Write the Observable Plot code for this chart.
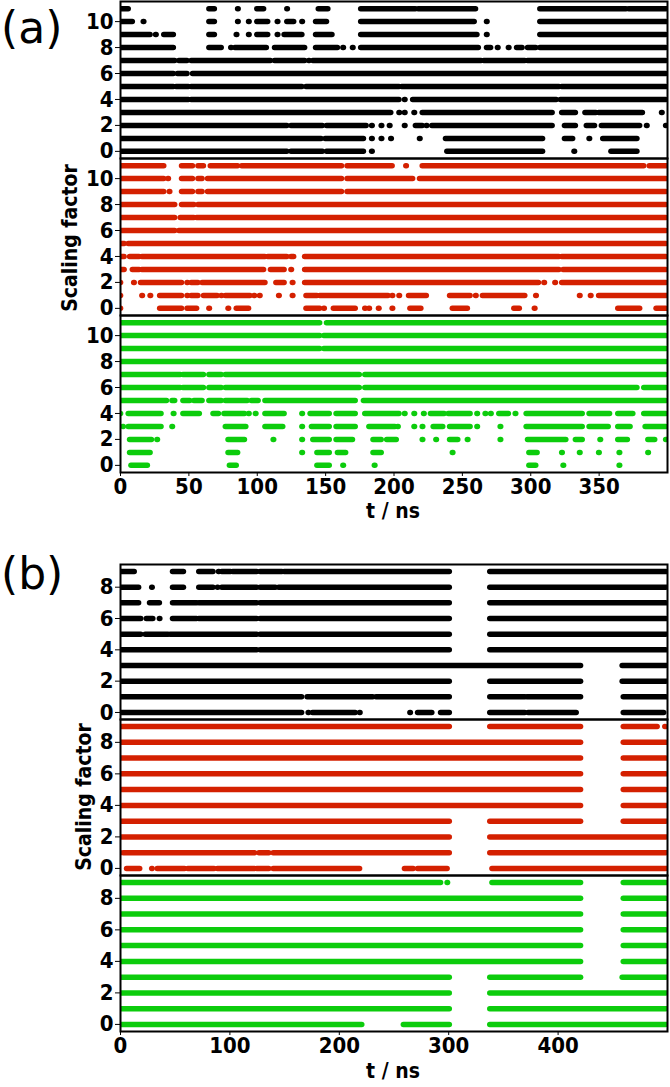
<!DOCTYPE html>
<html><head><meta charset="utf-8">
<script src="https://cdn.jsdelivr.net/npm/d3@7"></script>
<script src="https://cdn.jsdelivr.net/npm/@observablehq/plot@0.6"></script>
<style>
body{margin:0;background:#fff;}
#wrap{position:relative;width:670px;height:1087px;overflow:hidden;font-family:"DejaVu Sans",sans-serif;color:#000;}
.abs{position:absolute;}
.lab{font-family:"DejaVu Sans Condensed","DejaVu Sans",sans-serif;font-stretch:condensed;font-weight:bold;font-size:21px;white-space:nowrap;line-height:1;}
.tag{font-size:44px;line-height:1;white-space:nowrap;}
</style></head><body><div id="wrap"></div>
<script>
// ---- data: [level, [[t_start, t_end], ...]] in ns ----
const aXTicks = [0, 50, 100, 150, 200, 250, 300, 350];
const bXTicks = [0, 100, 200, 300, 400];
const aYTicks = [0, 2, 4, 6, 8, 10];
const bYTicks = [0, 2, 4, 6, 8];

const aBlack = [
 [11, [[0,6],[65,69],[86,86],[100,105],[122,122],[145,152],[176,216],[218,260],[307,370],[372,399]]],
 [10, [[0,9],[17,17],[65,69],[86,86],[94,94],[100,108],[115,115],[122,127],[133,133],[143,151],[176,259],[268,268],[307,399]]],
 [9,  [[0,22],[26,26],[32,39],[65,69],[85,85],[94,94],[100,108],[115,115],[120,133],[143,155],[176,261],[268,268],[307,399]]],
 [8,  [[0,39],[65,74],[81,81],[84,107],[113,135],[143,159],[163,163],[170,170],[176,262],[268,271],[276,276],[284,284],[290,294],[298,304],[307,399]]],
 [7,  [[0,40],[43,49],[52,110],[113,135],[138,138],[141,264],[266,296],[298,399]]],
 [6,  [[0,39],[42,49],[53,399]]],
 [5,  [[0,39],[41,50],[52,133],[136,204],[206,321],[323,399]]],
 [4,  [[0,50],[52,204],[208,208],[214,319],[322,399]]],
 [3,  [[0,198],[204,204],[208,208],[215,215],[221,316],[323,333],[340,348],[350,382],[396,396]]],
 [2,  [[0,122],[125,148],[151,180],[184,184],[191,191],[197,197],[208,208],[216,221],[224,224],[228,316],[325,333],[341,347],[352,380],[385,385],[399,399]]],
 [1,  [[0,147],[150,178],[184,184],[191,191],[198,198],[219,219],[238,309],[325,331],[343,343],[353,378]]],
 [0,  [[0,122],[125,148],[151,178],[184,184],[239,309],[332,332],[359,378]]]
];
const aRed = [
 [11, [[0,32],[45,53],[57,61],[66,86],[89,162],[166,199],[209,209],[221,383],[387,399]]],
 [10, [[0,32],[35,35],[45,53],[57,60],[64,162],[166,214],[219,399]]],
 [9,  [[0,32],[36,36],[45,53],[57,60],[64,162],[166,399]]],
 [8,  [[0,40],[45,54],[57,399]]],
 [7,  [[0,40],[44,54],[56,399]]],
 [6,  [[0,40],[43,399]]],
 [5,  [[0,3],[6,399]]],
 [4,  [[0,3],[7,14],[16,106],[108,122],[125,127],[135,321],[323,399]]],
 [3,  [[0,3],[9,14],[16,105],[110,120],[125,125],[135,321],[324,399]]],
 [2,  [[0,0],[10,10],[15,45],[49,49],[52,57],[60,106],[114,120],[126,126],[135,306],[310,310],[318,318],[323,399]]],
 [1,  [[0,0],[16,16],[22,22],[29,45],[49,49],[52,57],[61,71],[74,74],[77,95],[98,98],[102,102],[116,116],[126,126],[136,144],[146,196],[199,199],[204,204],[211,224],[241,256],[260,260],[265,296],[304,304],[336,336],[344,344],[350,399]]],
 [0,  [[0,0],[29,45],[49,56],[65,65],[79,79],[85,94],[136,146],[149,149],[156,172],[179,179],[182,182],[189,189],[199,199],[212,220],[243,254],[288,292],[303,303],[364,380],[392,399]]]
];
const aGreen = [
 [11, [[0,146],[151,399]]],
 [10, [[0,146],[149,399]]],
 [9,  [[0,146],[149,399]]],
 [8,  [[0,399]]],
 [7,  [[0,44],[46,61],[65,74],[77,175],[179,399]]],
 [6,  [[0,44],[46,61],[65,74],[77,175],[179,378],[383,399]]],
 [5,  [[0,34],[38,40],[46,51],[54,60],[65,74],[77,93],[96,101],[106,172],[178,399]]],
 [4,  [[0,0],[6,30],[39,39],[46,58],[68,72],[76,91],[94,94],[99,99],[106,120],[133,133],[139,153],[158,172],[179,204],[208,208],[215,215],[222,222],[227,237],[240,256],[261,261],[267,267],[271,271],[277,284],[289,289],[297,338],[343,358],[364,375],[383,399]]],
 [3,  [[2,2],[6,30],[38,38],[77,92],[106,119],[133,133],[140,153],[158,172],[182,201],[203,203],[215,215],[221,221],[229,236],[241,256],[261,261],[278,278],[297,338],[343,357],[364,373],[384,399]]],
 [2,  [[7,23],[27,27],[79,91],[112,112],[133,133],[141,153],[158,170],[185,191],[195,202],[221,221],[231,231],[241,247],[254,254],[278,278],[298,326],[333,338],[351,351],[364,371],[386,391],[399,399]]],
 [1,  [[7,22],[79,86],[133,133],[144,153],[159,165],[185,191],[243,243],[299,305],[323,323],[336,336],[350,350],[365,365],[386,386]]],
 [0,  [[8,20],[80,85],[144,153],[163,163],[186,186],[299,304],[324,324],[365,365]]]
];
const bBlack = [
 [9, [[0,13],[48,58],[72,85],[90,90],[93,101],[103,125],[128,148],[150,301],[338,499]]],
 [8, [[0,17],[29,29],[48,58],[72,85],[89,89],[93,125],[128,142],[145,301],[338,499]]],
 [7, [[0,17],[27,36],[48,70],[72,125],[128,301],[338,499]]],
 [6, [[0,19],[24,30],[36,36],[48,70],[72,125],[128,301],[338,499]]],
 [5, [[0,19],[23,44],[46,125],[128,301],[338,499]]],
 [4, [[0,125],[128,301],[338,499]]],
 [3, [[0,421],[459,499]]],
 [2, [[0,301],[338,421],[459,499]]],
 [1, [[0,166],[171,231],[234,301],[338,370],[372,421],[460,499]]],
 [0, [[0,166],[172,172],[176,215],[219,219],[265,265],[272,285],[293,301],[338,370],[373,417],[460,497]]]
];
const bRed = [
 [9, [[0,301],[338,421],[460,491],[498,498]]],
 [8, [[0,421],[460,499]]],
 [7, [[0,421],[460,499]]],
 [6, [[0,421],[460,499]]],
 [5, [[0,421],[460,499]]],
 [4, [[0,421],[460,499]]],
 [3, [[0,301],[338,421],[460,499]]],
 [2, [[0,301],[338,499]]],
 [1, [[0,0],[3,123],[127,136],[140,301],[338,499]]],
 [0, [[6,18],[29,29],[34,59],[62,86],[89,123],[125,136],[140,219],[260,268],[272,299],[340,499]]]
];
const bGreen = [
 [9, [[0,293],[299,299],[340,421],[460,499]]],
 [8, [[0,421],[460,499]]],
 [7, [[0,421],[460,499]]],
 [6, [[0,421],[460,499]]],
 [5, [[0,421],[460,499]]],
 [4, [[0,421],[460,499]]],
 [3, [[0,301],[338,421],[459,499]]],
 [2, [[0,301],[338,499]]],
 [1, [[0,301],[338,499]]],
 [0, [[0,221],[259,301],[338,499]]]
];

const BLACK = "#000000", RED = "#d42000", GREEN = "#0ccc0c";

const figs = {
  a: {xDomain: [0, 400], yDomain: [-0.55, 11.55], xTicks: aXTicks, yTicks: aYTicks},
  b: {xDomain: [0, 500], yDomain: [-0.45, 9.45], xTicks: bXTicks, yTicks: bYTicks}
};
const panels = [
  {levels: aBlack, color: BLACK, fig: "a", top: 1,   bottom: 158, axis: false},
  {levels: aRed,   color: RED,   fig: "a", top: 158, bottom: 315, axis: false},
  {levels: aGreen, color: GREEN, fig: "a", top: 315, bottom: 472, axis: true},
  {levels: bBlack, color: BLACK, fig: "b", top: 564, bottom: 719, axis: false},
  {levels: bRed,   color: RED,   fig: "b", top: 719, bottom: 875, axis: false},
  {levels: bGreen, color: GREEN, fig: "b", top: 875, bottom: 1031, axis: true}
];

const wrap = document.getElementById("wrap");
function rows(levels) {
  return levels.flatMap(([lv, segs]) => segs.map(([t0, t1]) => ({lv, t0, t1})));
}
for (const p of panels) {
  const f = figs[p.fig];
  const mb = p.axis ? 40 : 0;
  const h = p.bottom - p.top + mb;
  const chart = Plot.plot({
    width: 670, height: h,
    marginLeft: 120, marginRight: 3, marginTop: 0, marginBottom: mb,
    style: {background: "transparent", overflow: "visible", fontFamily: "'DejaVu Sans Condensed', 'DejaVu Sans', sans-serif", fontStretch: "condensed", fontSize: "22px", fontWeight: "bold", color: "#000"},
    x: {domain: f.xDomain, ticks: f.xTicks, axis: p.axis ? "bottom" : null, tickSize: 4, tickPadding: 2, label: null},
    y: {domain: f.yDomain, ticks: f.yTicks, tickSize: 5, tickPadding: 2, label: null},
    marks: [
      Plot.ruleY(rows(p.levels), {
        y: "lv", x1: "t0", x2: d => d.t1 === d.t0 ? d.t1 + 0.4 : d.t1,
        stroke: p.color, strokeWidth: 5.5, strokeLinecap: "round", clip: true
      }),
      Plot.frame({stroke: "#000", strokeWidth: 2})
    ]
  });
  chart.style.position = "absolute";
  chart.style.left = "0px";
  chart.style.top = p.top + "px";
  wrap.appendChild(chart);
}

function addText(txt, cls, css) {
  const d = document.createElement("div");
  d.className = "abs " + cls;
  d.textContent = txt;
  Object.assign(d.style, css);
  wrap.appendChild(d);
}
addText("(a)", "tag", {left: "1px", top: "6px"});
addText("(b)", "tag", {left: "1px", top: "552px"});
addText("Scaling factor", "lab", {left: "70px", top: "238px", transform: "translate(-50%,-50%) rotate(-90deg)"});
addText("Scaling factor", "lab", {left: "84px", top: "797px", transform: "translate(-50%,-50%) rotate(-90deg)"});
addText("t / ns", "lab", {left: "393px", top: "511px", transform: "translate(-50%,-50%)"});
addText("t / ns", "lab", {left: "393px", top: "1071px", transform: "translate(-50%,-50%)"});
</script></body></html>
